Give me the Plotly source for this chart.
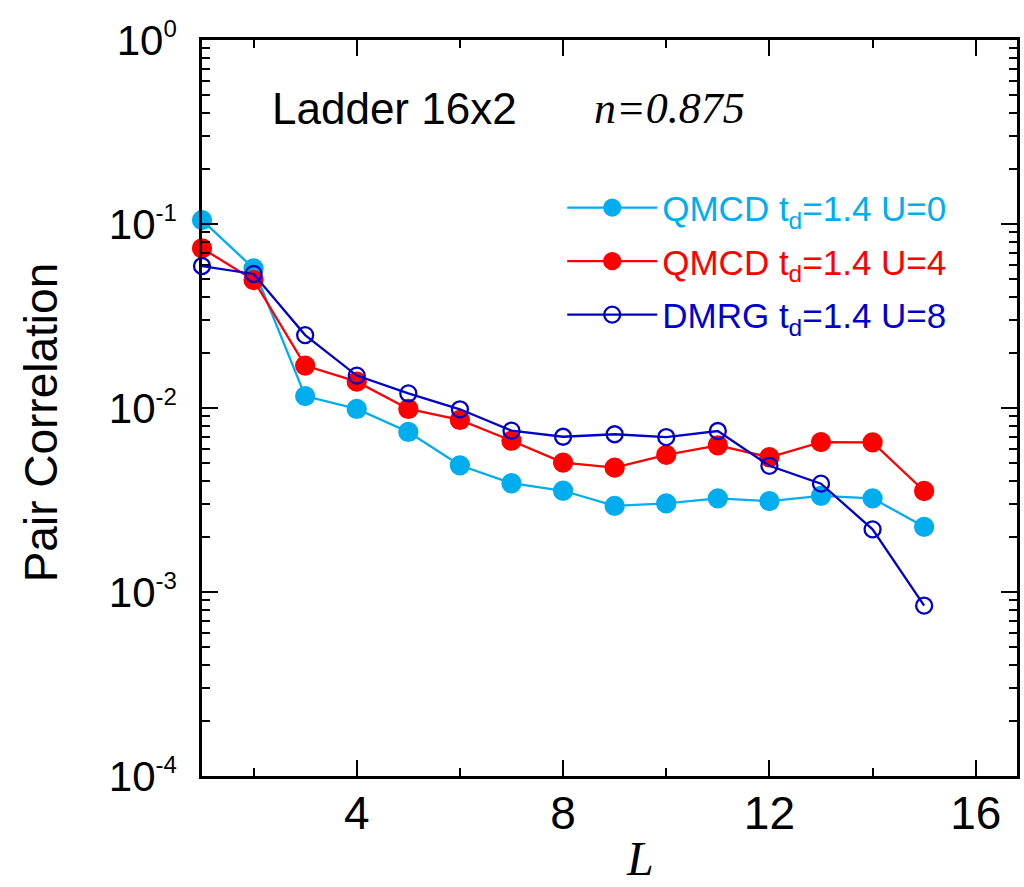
import plotly.graph_objects as go

L = list(range(1, 16))
qmc_u0 = [0.105, 0.0574, 0.0116, 0.00988, 0.00741, 0.00488, 0.0039, 0.00355, 0.00294, 0.00303, 0.00323, 0.00312, 0.00333, 0.00323, 0.00226]
qmc_u4 = [0.0738, 0.0496, 0.0170, 0.0139, 0.00988, 0.00861, 0.00664, 0.00505, 0.00474, 0.00556, 0.00627, 0.00540, 0.00653, 0.00650, 0.00354]
dmrg_u8 = [0.0591, 0.0535, 0.0249, 0.0150, 0.0120, 0.00984, 0.00753, 0.00698, 0.00720, 0.00695, 0.00750, 0.00485, 0.00388, 0.00219, 0.000843]

names = ["QMCD t<sub>d</sub>=1.4 U=0", "QMCD t<sub>d</sub>=1.4 U=4", "DMRG t<sub>d</sub>=1.4 U=8"]
colors = ["#00AEEF", "#FF0000", "#0000CC"]

y_tickvals = [1e-4, 1e-3, 1e-2, 1e-1, 1]
y_exps = ["-4", "-3", "-2", "-1", "0"]
y_ticktext = [f"10<sup><span style='font-size:24px'>{e}</span></sup>" for e in y_exps]
x_tickvals = [4, 8, 12, 16]

SANS = "Liberation Sans, Arial"
SERIF = "Liberation Serif, Times New Roman"

fig = go.Figure()
for i, (ys, nm, c, filled) in enumerate(zip([qmc_u0, qmc_u4, dmrg_u8], names, colors, [True, True, False])):
    fig.add_trace(go.Scatter(
        x=L, y=ys, mode="lines+markers",
        name=f"<span style='color:{c}'>{nm}</span>",
        legendgroup=f"g{i}",
        line=dict(color=c, width=2.3),
        marker=dict(size=18 if filled else 16, color=c,
                    symbol="circle" if filled else "circle-open",
                    line=dict(color=c, width=2.3)),
        cliponaxis=False,
    ))

axis_common = dict(showline=True, linecolor="black", linewidth=2.5, mirror="ticks",
                   ticks="inside", tickcolor="black", tickwidth=2, showgrid=False, zeroline=False)

fig.update_xaxes(range=[1, 16.8], tickvals=x_tickvals, ticklen=16,
                 minor=dict(dtick=2, tick0=0, ticks="inside", ticklen=8, tickwidth=2, tickcolor="black", showgrid=False),
                 tickfont=dict(family=SANS, size=46, color="black"), ticklabelstandoff=-5,
                 **axis_common)
fig.update_yaxes(type="log", range=[-4, 0], tickvals=y_tickvals, ticktext=y_ticktext, ticklen=16,
                 minor=dict(dtick="D1", ticks="inside", ticklen=8, tickwidth=2, tickcolor="black", showgrid=False),
                 tickfont=dict(family=SANS, size=42, color="black"), ticklabelstandoff=14,
                 **axis_common)

fig.add_annotation(text="<i>L</i>", xref="paper", yref="paper", x=0.538, y=-0.112,
                   xanchor="center", yanchor="middle", showarrow=False,
                   font=dict(family=SERIF, size=48, color="black"))
fig.add_annotation(text="Pair Correlation", xref="paper", yref="paper", x=-0.198, y=0.48,
                   xanchor="center", yanchor="middle", showarrow=False, textangle=-90,
                   font=dict(family=SANS, size=46, color="black"))
fig.add_annotation(text="Ladder 16x2", xref="paper", yref="paper", x=0.083, y=0.907,
                   xanchor="left", yanchor="middle", showarrow=False,
                   font=dict(family=SANS, size=44, color="black"))
fig.add_annotation(text="<i>n=0.875</i>", xref="paper", yref="paper", x=0.478, y=0.907,
                   xanchor="left", yanchor="middle", showarrow=False,
                   font=dict(family=SERIF, size=44, color="black"))

fig.update_layout(
    width=1024, height=887,
    margin=dict(l=202, r=4, t=40, b=111),
    plot_bgcolor="white", paper_bgcolor="white",
    showlegend=True,
    legend=dict(x=0.442, y=0.812, xanchor="left", yanchor="top", bgcolor="rgba(0,0,0,0)",
                font=dict(family=SANS, size=35, color="black"),
                itemwidth=90, tracegroupgap=5),
)

fig.write_html("out.html")
